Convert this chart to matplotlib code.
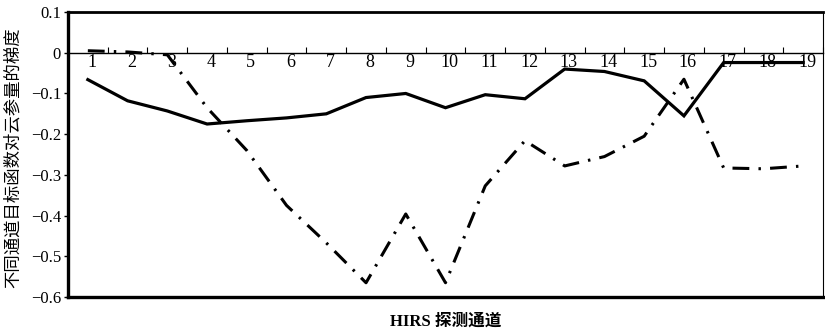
import matplotlib
matplotlib.use("Agg")
import matplotlib.pyplot as plt
import matplotlib.transforms as mtransforms
import numpy as np

# HIRS channel numbers and gradient of the objective function w.r.t. cloud parameters
channels = list(range(1, 20))
grad_solid = [-0.066, -0.118, -0.143, -0.175, -0.167, -0.160, -0.150, -0.110, -0.100, -0.135,
              -0.103, -0.113, -0.040, -0.046, -0.069, -0.155, -0.024, -0.024, -0.024]
grad_dashdot = [0.005, 0.002, -0.005, -0.135, -0.240, -0.375, -0.467, -0.565, -0.396, -0.565,
                -0.327, -0.216, -0.278, -0.255, -0.205, -0.065, -0.283, -0.285, -0.278]
yticks = [0.1, 0.0, -0.1, -0.2, -0.3, -0.4, -0.5, -0.6]
ytick_labels = ["0.1", "0", "\u22120.1", "\u22120.2", "\u22120.3", "\u22120.4", "\u22120.5", "\u22120.6"]

SERIF = ["Liberation Serif", "DejaVu Serif"]
CJK = ["Noto Sans CJK SC", "DejaVu Sans"]

fig = plt.figure(figsize=(8.25, 3.35), dpi=100)
fig.patch.set_facecolor("white")
pos = [0.0824, 0.1134, 0.9152, 0.8506]
ax = fig.add_axes(pos)

ax.plot(channels, grad_solid, color="black", lw=2.3, solid_joinstyle="miter", zorder=3)
ax.plot(channels, grad_dashdot, color="black", lw=2.2,
        linestyle=(0, (5.5, 3.0, 0.8, 3.0)), zorder=3)

ax.set_xlim(0.5, 19.5)
ax.set_ylim(-0.6, 0.1)

# category axis crosses the value axis at zero
for side in ["top", "right", "left"]:
    ax.spines[side].set_visible(False)
ax.spines["bottom"].set_position(("data", 0))
ax.spines["bottom"].set_linewidth(1.0)

ax.set_xticks(channels)
ax.set_xticklabels([str(c) for c in channels], family=SERIF, fontsize=13)
ax.set_xticks(np.arange(0.5, 20.0, 1.0), minor=True)
ax.tick_params(axis="x", which="major", length=0, pad=1)
ax.tick_params(axis="x", which="minor", direction="in", length=4, width=0.8)
shift = mtransforms.ScaledTranslation(4 / 100, 0, fig.dpi_scale_trans)
for lbl in ax.get_xticklabels():
    lbl.set_transform(lbl.get_transform() + shift)

ax.set_yticks(yticks)
ax.set_yticklabels(ytick_labels, family=SERIF, fontsize=12)
ax.tick_params(axis="y", direction="out", length=3, width=1, pad=2)

# outer frame of the plot area
frame = fig.add_axes(pos, facecolor="none")
frame.set_xticks([])
frame.set_yticks([])
frame.spines["left"].set_linewidth(2.4)
frame.spines["bottom"].set_linewidth(2.4)
frame.spines["top"].set_linewidth(2.0)
frame.spines["right"].set_linewidth(0.8)

fig.text(0.016, 0.53, "不同通道目标函数对云参量的梯度", rotation=90, ha="center", va="center",
         family=CJK, fontsize=12.5)
fig.text(0.54, 0.04, "HIRS 探测通道", ha="center", va="center",
         family=["Liberation Serif", "Noto Sans CJK SC"], fontsize=12, fontweight="bold")

fig.savefig("out.png", dpi=100, facecolor="white")
